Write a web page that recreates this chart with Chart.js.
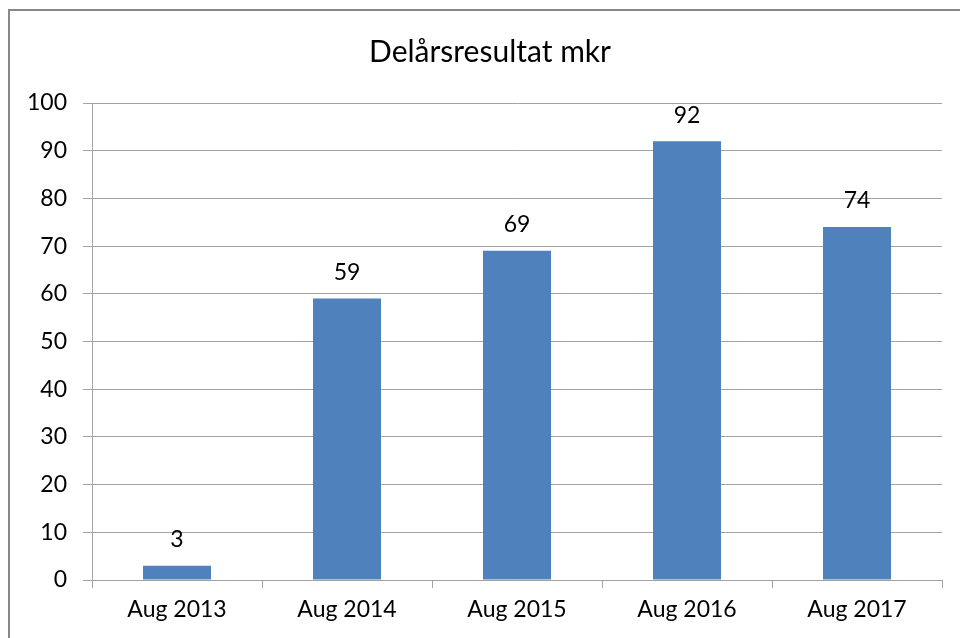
<!DOCTYPE html>
<html lang="sv">
<head>
    <meta charset="UTF-8">
    <title>Delårsresultat mkr</title>
    <script src="https://cdn.jsdelivr.net/npm/chart.js"></script>
    <style>
        body {
            margin: 0;
            background: #fff;
        }
        canvas {
            display: block;
        }
    </style>
</head>
<body>
    <canvas id="resultatChart" width="960" height="638"></canvas>

    <script>
        // Data
        const titel = 'Delårsresultat mkr';
        const kategorier = ['Aug 2013', 'Aug 2014', 'Aug 2015', 'Aug 2016', 'Aug 2017'];
        const resultat = [3, 59, 69, 92, 74];
        const yTicks = [0, 10, 20, 30, 40, 50, 60, 70, 80, 90, 100];

        const fontFamily = 'Lato, "Open Sans", sans-serif';
        const gridColor = '#a3a3a3';

        // Ram runt diagrammet (vänster och övre kant) och titel
        const ramPlugin = {
            id: 'ram',
            beforeDraw(chart) {
                const c = chart.ctx;
                c.save();
                c.fillStyle = '#fff';
                c.fillRect(0, 0, chart.width, chart.height);
                c.strokeStyle = '#888';
                c.lineWidth = 2;
                c.beginPath();
                c.moveTo(9, chart.height);
                c.lineTo(9, 10);
                c.lineTo(chart.width, 10);
                c.stroke();

                c.font = '30px ' + fontFamily;
                c.fillStyle = '#000';
                c.textAlign = 'center';
                c.textBaseline = 'middle';
                c.fillText(titel, 490, 52);
                c.restore();
            }
        };

        // Värden ovanför staplarna
        const etiketter = {
            id: 'etiketter',
            afterDatasetsDraw(chart) {
                const c = chart.ctx;
                const meta = chart.getDatasetMeta(0);
                c.save();
                c.font = '23px ' + fontFamily;
                c.fillStyle = '#000';
                c.textAlign = 'center';
                c.textBaseline = 'middle';
                meta.data.forEach((bar, i) => {
                    c.fillText(resultat[i], bar.x, bar.y - 26);
                });
                c.restore();
            }
        };

        const ctx = document.getElementById('resultatChart').getContext('2d');
        new Chart(ctx, {
            type: 'bar',
            data: {
                labels: kategorier,
                datasets: [{
                    data: resultat,
                    backgroundColor: '#4f81bd',
                    borderWidth: 0,
                    barPercentage: 0.4,
                    categoryPercentage: 1
                }]
            },
            options: {
                responsive: false,
                animation: false,
                layout: {
                    padding: { left: 0, right: 18, top: 103, bottom: 0 }
                },
                plugins: {
                    legend: { display: false },
                    tooltip: { enabled: false },
                    title: { display: false }
                },
                scales: {
                    x: {
                        offset: true,
                        grid: {
                            display: true,
                            offset: true,
                            drawOnChartArea: false,
                            drawTicks: true,
                            tickLength: 8,
                            color: gridColor
                        },
                        border: { display: true, color: gridColor },
                        ticks: {
                            color: '#000',
                            padding: 8,
                            font: { family: fontFamily, size: 23 }
                        },
                        afterFit(scale) { scale.height = 58; }
                    },
                    y: {
                        min: 0,
                        max: 100,
                        afterBuildTicks(scale) {
                            scale.ticks = yTicks.map(v => ({ value: v }));
                        },
                        grid: {
                            color: gridColor,
                            tickLength: 9
                        },
                        border: { display: true, color: gridColor },
                        ticks: {
                            color: '#000',
                            padding: 16,
                            font: { family: fontFamily, size: 23 }
                        },
                        afterFit(scale) { scale.width = 92; }
                    }
                }
            },
            plugins: [ramPlugin, etiketter]
        });
    </script>
</body>
</html>
